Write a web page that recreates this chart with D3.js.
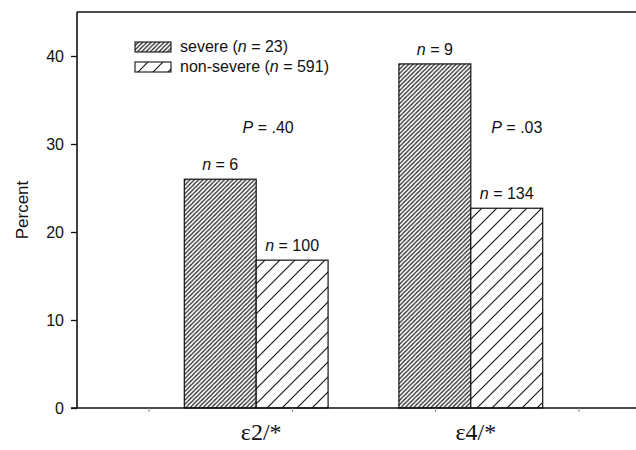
<!DOCTYPE html>
<html>
<head>
<meta charset="utf-8">
<script src="https://cdn.jsdelivr.net/npm/d3@7"></script>
<style>
  body { margin: 0; background: #fff; }
  svg { display: block; font-family: "Liberation Sans", Arial, sans-serif; }
</style>
</head>
<body>
<svg id="chart" width="636" height="450"></svg>
<script>
// data
var groups = ['ε2/*', 'ε4/*'];
var series = ['severe', 'non-severe'];
var seriesLabels = ['severe', 'non-severe'];
var seriesN = [23, 591];
var severeVals = [26.0, 39.1];
var nonSevereVals = [16.8, 22.7];
var severeN = [6, 9];
var nonSevereN = [100, 134];
var pValues = ['.40', '.03'];
var yTicks = [0, 10, 20, 30, 40];
var xMinorTicks = [0.5, 1.5, 2.5, 3.5];

var svg = d3.select('#chart');
var margin = { top: 12, left: 77, bottom: 42 };
var plotRight = 650;
var innerHeight = 450 - margin.top - margin.bottom;

var defs = svg.append('defs');
// "/" hatching, w = horizontal period
function hatch(id, w, sw) {
    var p = defs.append('pattern')
        .attr('id', id)
        .attr('patternUnits', 'userSpaceOnUse')
        .attr('width', w)
        .attr('height', w);
    p.append('rect').attr('width', w).attr('height', w).attr('fill', '#fff');
    p.append('path')
        .attr('d', `M0,${w}L${w},0M${-w / 2},${w / 2}L${w / 2},${-w / 2}M${w / 2},${w * 1.5}L${w * 1.5},${w / 2}`)
        .attr('stroke', '#1a1a1a').attr('stroke-width', sw);
}
hatch('dense', 4.3, 1.2);
hatch('sparse', 15, 1.2);
var fills = ['url(#dense)', 'url(#sparse)'];

var yScale = d3.scaleLinear().domain([0, 45]).range([margin.top + innerHeight, margin.top]);
var xBand = d3.scaleBand().domain(groups).range([margin.left, plotRight])
    .paddingInner(0.33).paddingOuter(0.5);
var xSub = d3.scaleBand().domain(series).range([0, xBand.bandwidth()]);
var xMinor = d3.scaleLinear().domain([0, 4]).range([margin.left, plotRight]);

var bars = [];
groups.forEach(function (g, i) {
    bars.push({ group: g, s: 'severe', v: severeVals[i], n: severeN[i], fill: fills[0] });
    bars.push({ group: g, s: 'non-severe', v: nonSevereVals[i], n: nonSevereN[i], fill: fills[1] });
});

// bars
svg.selectAll('.bar')
    .data(bars)
    .enter()
    .append('rect')
    .attr('x', d => xBand(d.group) + xSub(d.s))
    .attr('y', d => yScale(d.v))
    .attr('width', xSub.bandwidth())
    .attr('height', d => yScale(0) - yScale(d.v))
    .attr('fill', d => d.fill)
    .attr('stroke', '#111')
    .attr('stroke-width', 1.2);

// n labels
var nLab = svg.selectAll('.nlab')
    .data(bars)
    .enter()
    .append('text')
    .attr('x', d => xBand(d.group) + xSub(d.s) + xSub.bandwidth() / 2)
    .attr('y', d => yScale(d.v) - 9)
    .attr('text-anchor', 'middle')
    .attr('font-size', 16)
    .attr('fill', '#111');
nLab.append('tspan').attr('font-style', 'italic').text('n');
nLab.append('tspan').text(d => ' = ' + d.n);

// P values, placed in the gap right of each group's first bar
var pOffsets = [12, 46];
var pLab = svg.selectAll('.plab')
    .data(groups)
    .enter()
    .append('text')
    .attr('x', (d, i) => xBand(d) + xBand.bandwidth() / 2 + pOffsets[i])
    .attr('y', yScale(31.2))
    .attr('text-anchor', 'middle')
    .attr('font-size', 16)
    .attr('fill', '#111');
pLab.append('tspan').attr('font-style', 'italic').text('P');
pLab.append('tspan').text((d, i) => ' = ' + pValues[i]);

// axes frame
var axisColor = '#111';
svg.append('line')
    .attr('x1', margin.left).attr('x2', plotRight)
    .attr('y1', margin.top).attr('y2', margin.top)
    .attr('stroke', axisColor).attr('stroke-width', 1.6);

var yAxis = svg.append('g')
    .attr('transform', `translate(${margin.left},0)`)
    .call(d3.axisLeft(yScale).tickValues(yTicks).tickSize(6).tickSizeOuter(0).tickPadding(7));
yAxis.select('.domain').attr('stroke', axisColor).attr('stroke-width', 1.6)
    .attr('d', `M0,${margin.top}V${yScale(0)}`);
yAxis.selectAll('.tick line').attr('stroke', axisColor).attr('stroke-width', 1.3);
yAxis.selectAll('.tick text').attr('font-size', 16).attr('fill', '#111')
    .attr('font-family', '"Liberation Sans", Arial, sans-serif');

var xAxis = svg.append('g')
    .attr('transform', `translate(0,${yScale(0)})`)
    .call(d3.axisBottom(xMinor).tickValues(xMinorTicks).tickSize(4).tickSizeOuter(0));
xAxis.selectAll('.tick text').remove();
xAxis.select('.domain').attr('stroke', axisColor).attr('stroke-width', 1.6)
    .attr('d', `M${margin.left - 6},0H${plotRight}`);
xAxis.selectAll('.tick line').attr('stroke', '#888').attr('stroke-width', 1);

// category labels
svg.selectAll('.glab')
    .data(groups)
    .enter()
    .append('text')
    .attr('x', d => xBand(d) + xBand.bandwidth() / 2 + 5)
    .attr('y', 440)
    .attr('text-anchor', 'middle')
    .attr('font-family', '"Liberation Serif", "Times New Roman", serif')
    .attr('font-size', 24)
    .attr('fill', '#111')
    .text(d => d);

// y title
svg.append('text')
    .attr('transform', `translate(28,${yScale(22.5)}) rotate(-90)`)
    .attr('text-anchor', 'middle')
    .attr('font-size', 17)
    .attr('fill', '#111')
    .text('Percent');

// legend
var legend = svg.append('g');
series.forEach(function (s, i) {
    var y = 42 + i * 20;
    legend.append('rect')
        .attr('x', 135).attr('y', y)
        .attr('width', 36).attr('height', 10)
        .attr('fill', fills[i])
        .attr('stroke', '#111').attr('stroke-width', 1.1);
    var t = legend.append('text')
        .attr('x', 180).attr('y', y + 10)
        .attr('font-size', 16)
        .attr('fill', '#111');
    t.append('tspan').text(seriesLabels[i] + ' (');
    t.append('tspan').attr('font-style', 'italic').text('n');
    t.append('tspan').text(' = ' + seriesN[i] + ')');
});
</script>
</body>
</html>
